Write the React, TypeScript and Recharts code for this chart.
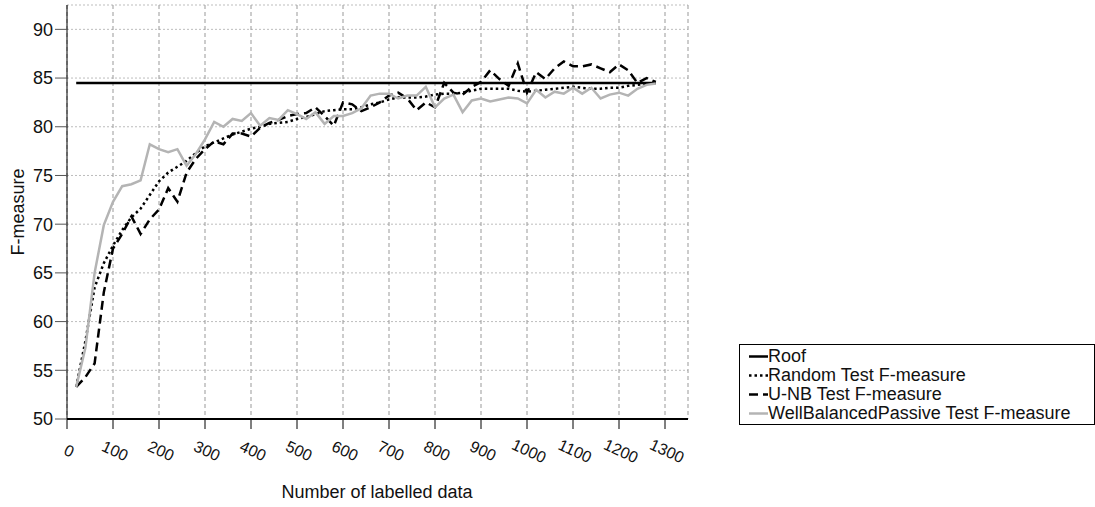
import React from 'react';
import { LineChart, Line, XAxis, YAxis, CartesianGrid, Legend } from 'recharts';

// Number of labelled data (x values)
const labelled = [
  20, 40, 60, 80, 100, 120, 140, 160, 180, 200,
  220, 240, 260, 280, 300, 320, 340, 360, 380, 400,
  420, 440, 460, 480, 500, 520, 540, 560, 580, 600,
  620, 640, 660, 680, 700, 720, 740, 760, 780, 800,
  820, 840, 860, 880, 900, 920, 940, 960, 980, 1000,
  1020, 1040, 1060, 1080, 1100, 1120, 1140, 1160, 1180, 1200,
  1220, 1240, 1260, 1280,
];

const roofValue = 84.5;

const randomF = [
  53.3, 58.0, 63.5, 66.0, 67.8, 69.4, 70.7, 71.6, 73.0, 74.4,
  75.3, 75.9, 76.5, 77.3, 78.0, 78.4, 78.8, 79.2, 79.5, 79.8,
  80.0, 80.3, 80.4, 80.5, 80.8, 81.0, 81.3, 81.6, 81.7, 81.8,
  81.8, 82.0, 82.3, 82.5, 82.8, 83.0, 83.0, 83.0, 83.1, 83.3,
  83.4, 83.4, 83.5, 83.7, 83.9, 83.9, 83.9, 83.9, 83.7, 83.6,
  83.7, 83.8, 83.9, 84.0, 84.1, 84.0, 83.9, 83.9, 84.0, 84.0,
  84.2, 84.3, 84.4, 84.5,
];

const unbF = [
  53.3, 54.3, 55.7, 63.0, 67.5, 69.0, 70.8, 69.0, 70.5, 71.5,
  73.7, 72.3, 75.3, 76.7, 77.7, 78.5, 78.2, 79.3, 79.3, 79.0,
  79.9, 80.4, 80.7, 81.1, 81.3, 81.4, 82.0, 81.1, 80.1, 82.5,
  82.3, 81.6, 82.0, 82.5, 83.2, 83.5, 82.9, 81.7, 82.5, 82.0,
  84.5, 83.5, 83.3, 84.1, 84.6, 85.8, 84.9, 84.2, 86.5, 83.5,
  85.6, 84.9, 86.0, 86.7, 86.2, 86.2, 86.4, 86.0, 85.6, 86.4,
  85.8, 84.5, 85.0, 84.6,
];

const wbpF = [
  53.3, 57.3, 65.0, 69.9, 72.3, 73.9, 74.1, 74.5, 78.2, 77.7,
  77.4, 77.7, 76.0, 77.2, 78.7, 80.5, 80.0, 80.8, 80.6, 81.4,
  80.1, 80.9, 80.7, 81.7, 81.3, 80.8, 81.5, 80.3, 81.1, 81.1,
  81.4, 81.9, 83.2, 83.4, 83.4, 82.9, 83.2, 83.2, 84.1, 82.0,
  82.9, 83.3, 81.5, 82.7, 82.9, 82.6, 82.8, 83.0, 82.9, 82.4,
  83.8, 83.0, 83.6, 83.4, 84.0, 83.4, 84.0, 82.9, 83.3, 83.5,
  83.2, 83.9, 84.3, 84.45,
];

const xTicks = [0, 100, 200, 300, 400, 500, 600, 700, 800, 900, 1000, 1100, 1200, 1300];
const yTicks = [50, 55, 60, 65, 70, 75, 80, 85, 90];

const series = [
  { key: 'roof', name: 'Roof', stroke: '#000000', dash: undefined as string | undefined },
  { key: 'random', name: 'Random Test F-measure', stroke: '#000000', dash: '2.5 3' },
  { key: 'unb', name: 'U-NB Test F-measure', stroke: '#000000', dash: '9 5' },
  { key: 'wbp', name: 'WellBalancedPassive Test F-measure', stroke: '#b4b4b4', dash: undefined as string | undefined },
];

const data = labelled.map((x, i) => ({
  x,
  roof: roofValue,
  random: randomF[i],
  unb: unbF[i],
  wbp: wbpF[i],
}));

const FONT = '"Liberation Sans", Arial, Helvetica, sans-serif';

const XTick = (props: any) => {
  const { x, y, payload } = props;
  return (
    <text
      x={0}
      y={0}
      transform={`translate(${x + 2},${y + 20}) rotate(25)`}
      textAnchor="middle"
      dominantBaseline="central"
      fontSize={16}
      fontFamily={FONT}
      fill="#111"
    >
      {payload.value}
    </text>
  );
};

const renderLegend = () => (
  <div
    style={{
      boxSizing: 'border-box',
      border: '1px solid #000',
      width: 356,
      height: 81,
      padding: '2px 0 0 9px',
      fontFamily: FONT,
      fontSize: 18,
      color: '#111',
      background: '#fff',
    }}
  >
    {series.map((s) => (
      <div key={s.key} style={{ display: 'flex', alignItems: 'center', height: 19, lineHeight: '19px', whiteSpace: 'nowrap' }}>
        <svg width={19} height={19} style={{ display: 'block' }}>
          <line x1={0} y1={9.5} x2={19} y2={9.5} stroke={s.stroke} strokeWidth={2.5} strokeDasharray={s.dash} />
        </svg>
        <span>{s.name}</span>
      </div>
    ))}
  </div>
);

export default function App() {
  return (
    <div style={{ position: 'absolute', left: 0, top: 0, width: 1095, height: 507, background: '#fff' }}>
      <LineChart
        width={1095}
        height={507}
        data={data}
        margin={{ top: 5, right: 51, bottom: 28, left: 0 }}
      >
        <CartesianGrid vertical={false} stroke="#bdbdbd" strokeDasharray="2 2" />
        <CartesianGrid horizontal={false} stroke="#999999" strokeDasharray="4 3" />
        <XAxis
          dataKey="x"
          type="number"
          domain={[0, 1350]}
          ticks={xTicks}
          interval={0}
          height={60}
          tickSize={10}
          tick={<XTick />}
          axisLine={{ stroke: '#000', strokeWidth: 2 }}
          tickLine={{ stroke: '#000', strokeWidth: 1 }}
          label={{
            content: () => (
              <text x={377} y={492} textAnchor="middle" dominantBaseline="central" fontSize={18} fontFamily={FONT} fill="#111">
                Number of labelled data
              </text>
            ),
          }}
        />
        <YAxis
          type="number"
          domain={[50, 92.5]}
          ticks={yTicks}
          interval={0}
          width={67}
          tickSize={12}
          tick={{ fontSize: 18, fontFamily: FONT, fill: '#111' }}
          axisLine={{ stroke: '#000', strokeWidth: 1 }}
          tickLine={{ stroke: '#555', strokeWidth: 1 }}
          allowDataOverflow
          label={{
            content: () => (
              <text x={18} y={212} transform="rotate(-90 18 212)" textAnchor="middle" dominantBaseline="central" fontSize={18} fontFamily={FONT} fill="#111">
                F-measure
              </text>
            ),
          }}
        />
        <Legend
          layout="vertical"
          align="right"
          verticalAlign="middle"
          content={renderLegend}
          wrapperStyle={{ position: 'absolute', left: 739, top: 344, width: 356, height: 81 }}
        />
        {series.map((s) => (
          <Line
            key={s.key}
            type="linear"
            dataKey={s.key}
            name={s.name}
            stroke={s.stroke}
            strokeWidth={2.5}
            strokeDasharray={s.dash}
            dot={false}
            activeDot={false}
            isAnimationActive={false}
          />
        ))}
      </LineChart>
    </div>
  );
}
